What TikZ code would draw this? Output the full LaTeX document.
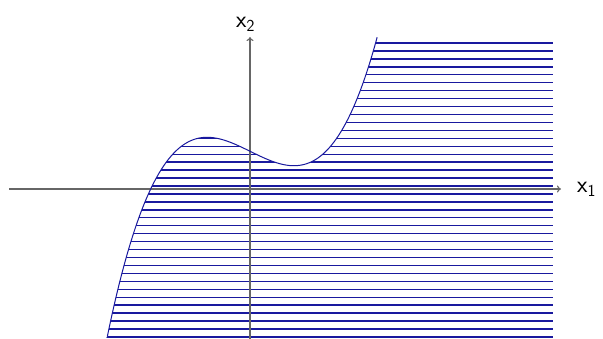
\documentclass[tikz,border=0pt]{standalone}
\usetikzlibrary{arrows.meta}
\definecolor{hatch}{rgb}{0.1,0.1,0.62}
\tikzset{
  axis/.style={draw=black!60, line width=1.1pt, -{To[length=4pt,width=7pt]}},
  curve/.style={draw=hatch, line width=1pt},
  hatchline/.style={draw=hatch, line width=1.4pt},
  lbl/.style={inner sep=0pt, font=\sffamily\fontsize{24}{29}\selectfont}
}
\begin{document}
\begin{tikzpicture}[x=1pt,y=-1pt,
  declare function={
    f(\u)=-1.477*(\u+0.417)*(\u-0.45)*(\u-1.273)/(-5.1186)
          +0.517*(\u+1.427)*(\u-0.45)*(\u-1.273)/(1.4799)
          +0.233*(\u+1.427)*(\u+0.417)*(\u-1.273)/(-1.3393)
          +1.523*(\u+1.427)*(\u+0.417)*(\u-0.45)/(3.7554);
  }]
\useasboundingbox (0,0) rectangle (603,339);
% hatched region
\begin{scope}
  \clip (553,345) -- (100,345) -- (107.3,336.7)
    -- plot[domain=-1.427:1.273, samples=120, smooth] ({250+100*\x},{189-100*f(\x)})
    -- (553,36.7) -- cycle;
  \foreach \k in {0,...,37}{
    \draw[hatchline] (95,{43+\k*7.945}) -- (553,{43+\k*7.945});
  }
\end{scope}
% axes
\coordinate (xs) at (9,189);
\coordinate (xe) at (561,189);
\coordinate (ys) at (250,339);
\coordinate (ye) at (250,37);
\draw[axis] (xs) -- (xe);
\draw[axis] (ys) -- (ye);
% curve
\draw[curve] plot[domain=-1.427:1.273, samples=120, smooth] ({250+100*\x},{189-100*f(\x)});
% labels
\node[lbl, anchor=base west] (lx1) at (577,193) {x\textsubscript{1}};
\node[lbl, anchor=base west] (lx2) at (236,27.3) {x\textsubscript{2}};
\end{tikzpicture}
\end{document}
